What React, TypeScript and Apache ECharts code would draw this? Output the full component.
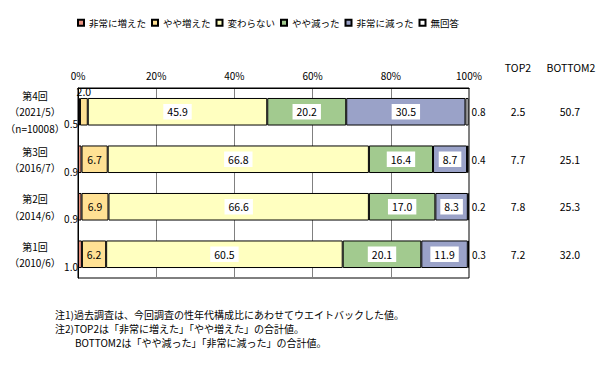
import React, { useEffect, useRef } from "react";
import * as echarts from "echarts";

const rounds = [
  "第4回\n（2021/5）\n（n=10008）",
  "第3回\n（2016/7）",
  "第2回\n（2014/6）",
  "第1回\n（2010/6）",
];
const seriesNames = ["非常に増えた", "やや増えた", "変わらない", "やや減った", "非常に減った", "無回答"];
const veryIncreased = [0.5, 0.9, 0.9, 1.0];
const slightlyIncreased = [2.0, 6.7, 6.9, 6.2];
const unchanged = [45.9, 66.8, 66.6, 60.5];
const slightlyDecreased = [20.2, 16.4, 17.0, 20.1];
const veryDecreased = [30.5, 8.7, 8.3, 11.9];
const noAnswer = [0.8, 0.4, 0.2, 0.3];
const top2 = ["2.5", "7.7", "7.8", "7.2"];
const bottom2 = ["50.7", "25.1", "25.3", "32.0"];
const xTicks = [0, 20, 40, 60, 80, 100];
const notes = [
  "注1)過去調査は、今回調査の性年代構成比にあわせてウエイトバックした値。",
  "注2)TOP2は「非常に増えた」「やや増えた」の合計値。",
  "　　BOTTOM2は「やや減った」「非常に減った」の合計値。",
];

const FONT = "'Noto Sans CJK JP', sans-serif";
const colors = ["#ea9381", "#ffe194", "#ffffc0", "#a2ca8f", "#9aa2c8", "#ffffff"];

export default function App() {
  const ref = useRef<HTMLDivElement>(null);
  useEffect(() => {
    document.body.style.margin = "0";
    if (!ref.current) return;
    const chart = echarts.init(ref.current, null, { renderer: "svg" });
    const fmt = (p: any) => Number(p.value).toFixed(1);
    const boxLabel = {
      show: true,
      position: "inside",
      backgroundColor: "#fff",
      padding: [3, 4, 2, 4],
      color: "#000",
      fontSize: 10.5,
      fontFamily: FONT,
      formatter: fmt,
    };
    const datasets = [veryIncreased, slightlyIncreased, unchanged, slightlyDecreased, veryDecreased, noAnswer];
    const labels: any[] = [
      { show: true, position: [0, 26], align: "right", verticalAlign: "middle", color: "#000", fontSize: 10, fontFamily: FONT, formatter: fmt },
      { show: true, position: "inside", color: "#000", fontSize: 10.5, fontFamily: FONT, formatter: fmt },
      boxLabel,
      boxLabel,
      boxLabel,
      { show: true, position: "right", distance: 3, color: "#000", fontSize: 10, fontFamily: FONT, formatter: fmt },
    ];
    const series = datasets.map((arr, s) => ({
      name: seriesNames[s],
      type: "bar",
      stack: "total",
      barCategoryGap: "42%",
      yAxisIndex: 0,
      itemStyle: { color: colors[s], borderColor: "#000", borderWidth: 1 },
      label: labels[s],
      data: arr.map((v, i) =>
        s === 1 && v < 3 ? { value: v, label: { position: "top", distance: 1 } } : v
      ),
    }));
    const option: any = {
      animation: false,
      textStyle: { fontFamily: FONT },
      legend: {
        data: seriesNames,
        left: 77,
        top: 18,
        padding: 0,
        icon: "rect",
        itemWidth: 6,
        itemHeight: 6,
        itemGap: 5,
        textStyle: { fontSize: 9.5, color: "#000", fontFamily: FONT },
      },
      grid: {
        left: 78,
        right: 137,
        top: 88,
        bottom: 90,
        show: true,
        borderColor: "#000",
        borderWidth: 1,
      },
      xAxis: {
        type: "value",
        position: "top",
        min: xTicks[0],
        max: xTicks[xTicks.length - 1],
        interval: 20,
        axisLine: { show: true, lineStyle: { color: "#000" } },
        axisTick: { show: false },
        axisLabel: { formatter: "{value}%", color: "#000", fontSize: 10, margin: 8, fontFamily: FONT },
        splitLine: { show: true, lineStyle: { color: "#808080", width: 1 } },
      },
      yAxis: [
        {
          type: "category",
          inverse: true,
          data: rounds,
          axisLine: { show: true, lineStyle: { color: "#000" } },
          axisTick: { show: false },
          axisLabel: {
            align: "center",
            margin: 43,
            lineHeight: 16.5,
            fontSize: 10,
            color: "#000",
            fontFamily: FONT,
          },
        },
        {
          type: "category",
          inverse: true,
          position: "right",
          data: rounds,
          axisLine: { show: false },
          axisTick: { show: false },
          axisLabel: {
            align: "center",
            margin: 49,
            fontSize: 10.5,
            color: "#000",
            fontFamily: FONT,
            formatter: (_v: string, i: number) => top2[i],
          },
        },
        {
          type: "category",
          inverse: true,
          position: "right",
          data: rounds,
          axisLine: { show: false },
          axisTick: { show: false },
          axisLabel: {
            align: "center",
            margin: 101,
            fontSize: 10.5,
            color: "#000",
            fontFamily: FONT,
            formatter: (_v: string, i: number) => bottom2[i],
          },
        },
      ],
      graphic: [
        { type: "text", x: 518, y: 67, style: { text: "TOP2", fontSize: 10.5, fill: "#000", align: "center", verticalAlign: "middle", fontFamily: FONT } },
        { type: "text", x: 571, y: 67, style: { text: "BOTTOM2", fontSize: 10.5, fill: "#000", align: "center", verticalAlign: "middle", fontFamily: FONT } },
        {
          type: "text",
          x: 55,
          y: 307,
          style: { text: notes.join("\n"), fontSize: 10, lineHeight: 14, fill: "#000", verticalAlign: "top", fontFamily: FONT },
        },
      ],
      series,
    };
    chart.setOption(option);
    return () => chart.dispose();
  }, []);
  return <div ref={ref} style={{ width: 606, height: 368 }} />;
}
